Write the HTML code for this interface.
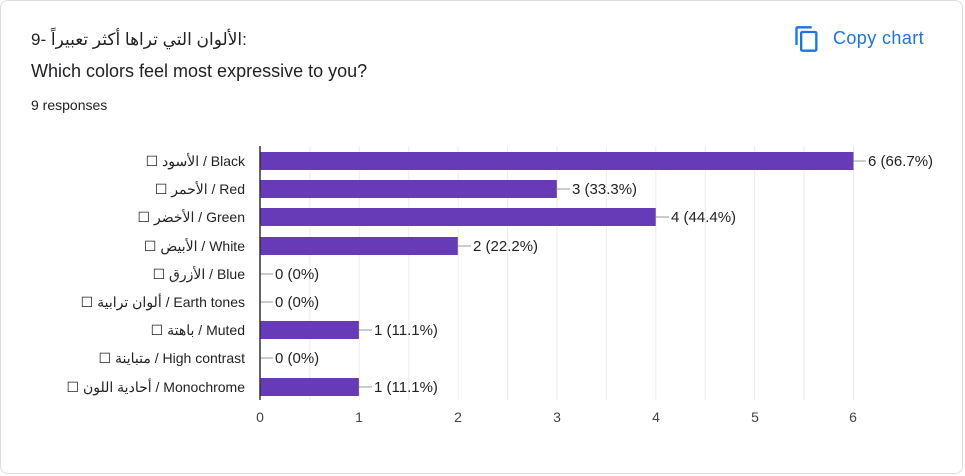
<!DOCTYPE html>
<html><head><meta charset="utf-8"><style>
body{margin:0;background:#fff;width:965px;height:476px;overflow:hidden;font-family:"Liberation Sans",Arial,sans-serif;}
.card{position:absolute;left:0;top:0;width:961px;height:472px;border:1px solid #dadce0;border-radius:8px;}
.t{position:absolute;left:31px;color:#202124;white-space:nowrap;}
.lab{position:absolute;right:720px;font-size:14px;color:#222;white-space:nowrap;direction:ltr;line-height:16px;}
.val{position:absolute;font-size:15px;color:#222;white-space:nowrap;line-height:16px;}
</style></head><body>
<div class="card"></div>
<div class="t" style="top:30px;font-size:17px;font-family:'Liberation Sans','DejaVu Sans',sans-serif;">9- الألوان التي تراها أكثر تعبيراً:</div>
<div class="t" style="top:61px;font-size:18px;">Which colors feel most expressive to you?</div>
<div class="t" style="top:97px;font-size:14px;">9 responses</div>
<svg style="position:absolute;left:793px;top:25px" width="28" height="28" viewBox="0 0 24 24"><path fill="#1a73e8" d="M16 1H4c-1.1 0-2 .9-2 2v14h2V3h12V1zm3 4H8c-1.1 0-2 .9-2 2v14c0 1.1.9 2 2 2h11c1.1 0 2-.9 2-2V7c0-1.1-.9-2-2-2zm0 16H8V7h11v14z"/></svg>
<div style="position:absolute;left:833px;top:28px;font-size:18px;letter-spacing:0.4px;color:#1a73e8;">Copy chart</div>
<svg style="position:absolute;left:0;top:0" width="965" height="476">
<g stroke="#ebebeb" stroke-width="1">
<line x1="309.9" y1="146" x2="309.9" y2="400"/><line x1="359.3" y1="146" x2="359.3" y2="400"/><line x1="408.8" y1="146" x2="408.8" y2="400"/><line x1="458.2" y1="146" x2="458.2" y2="400"/><line x1="507.6" y1="146" x2="507.6" y2="400"/><line x1="557" y1="146" x2="557" y2="400"/><line x1="606.4" y1="146" x2="606.4" y2="400"/><line x1="655.8" y1="146" x2="655.8" y2="400"/><line x1="705.3" y1="146" x2="705.3" y2="400"/><line x1="754.7" y1="146" x2="754.7" y2="400"/><line x1="804.1" y1="146" x2="804.1" y2="400"/><line x1="853.5" y1="146" x2="853.5" y2="400"/>
</g>
<g fill="#673ab7">
<rect x="260" y="152" width="593.5" height="18"/>
<rect x="260" y="180" width="296.8" height="18"/>
<rect x="260" y="208" width="395.7" height="18"/>
<rect x="260" y="237" width="197.8" height="18"/>
<rect x="260" y="321" width="98.9" height="18"/>
<rect x="260" y="378" width="98.9" height="18"/>
</g>
<g stroke="#999" stroke-width="1">
<line x1="853.5" y1="161" x2="866" y2="161"/><line x1="557" y1="189" x2="570" y2="189"/><line x1="655.8" y1="217" x2="669" y2="217"/><line x1="458" y1="246" x2="471" y2="246"/><line x1="260" y1="274" x2="273" y2="274"/><line x1="260" y1="302" x2="273" y2="302"/><line x1="359" y1="330" x2="372" y2="330"/><line x1="260" y1="358" x2="273" y2="358"/><line x1="359" y1="387" x2="372" y2="387"/>
</g>
<line x1="260" y1="146" x2="260" y2="400" stroke="#333" stroke-width="1.5"/>
<g font-size="14" fill="#444" text-anchor="middle" font-family="Liberation Sans,sans-serif">
<text x="260" y="422">0</text><text x="359" y="422">1</text><text x="458" y="422">2</text><text x="557" y="422">3</text><text x="656" y="422">4</text><text x="755" y="422">5</text><text x="853" y="422">6</text>
</g>
</svg>
<div class="val" style="left:868px;top:154px">6 (66.7%)</div>
<div class="val" style="left:572px;top:182px">3 (33.3%)</div>
<div class="val" style="left:671px;top:210px">4 (44.4%)</div>
<div class="val" style="left:473px;top:239px">2 (22.2%)</div>
<div class="val" style="left:275px;top:267px">0 (0%)</div>
<div class="val" style="left:275px;top:295px">0 (0%)</div>
<div class="val" style="left:374px;top:323px">1 (11.1%)</div>
<div class="val" style="left:275px;top:351px">0 (0%)</div>
<div class="val" style="left:374px;top:380px">1 (11.1%)</div>
<div class="lab" style="top:153px">☐ الأسود / Black</div>
<div class="lab" style="top:181px">☐ الأحمر / Red</div>
<div class="lab" style="top:209px">☐ الأخضر / Green</div>
<div class="lab" style="top:238px">☐ الأبيض / White</div>
<div class="lab" style="top:266px">☐ الأزرق / Blue</div>
<div class="lab" style="top:294px">☐ ألوان ترابية / Earth tones</div>
<div class="lab" style="top:322px">☐ باهتة / Muted</div>
<div class="lab" style="top:350px">☐ متباينة / High contrast</div>
<div class="lab" style="top:379px">☐ أحادية اللون / Monochrome</div>
</body></html>
